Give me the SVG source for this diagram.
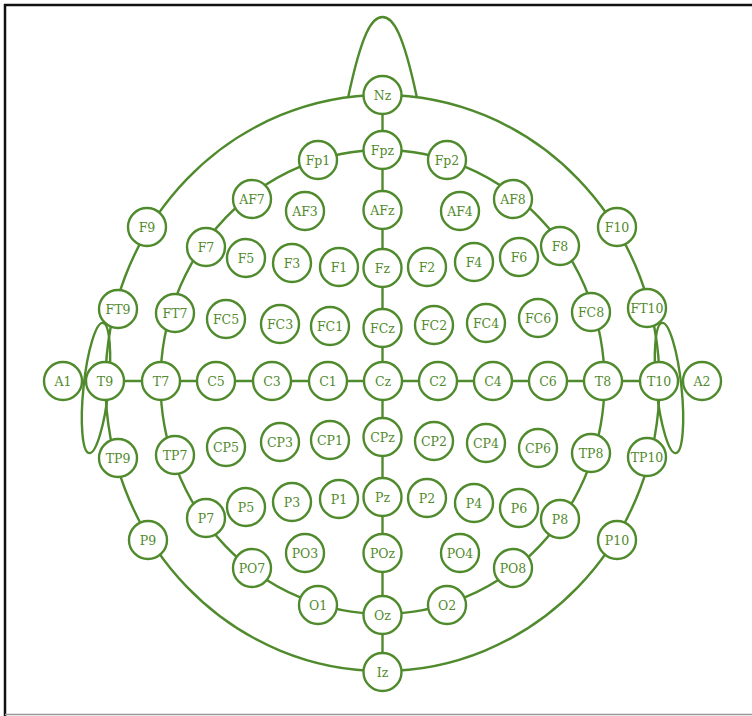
<svg xmlns="http://www.w3.org/2000/svg" width="752" height="716" viewBox="0 0 752 716">
<style>
.ln{fill:none;stroke:#4f8a2c;stroke-width:2.4}
.nd circle{fill:#fff;stroke:#4f8a2c;stroke-width:2.4}
.nd text{font-family:"DejaVu Serif",serif;font-size:12.5px;fill:#4f8a2c;text-anchor:middle;dominant-baseline:central}
</style>
<rect width="752" height="716" fill="#fff"/>
<line x1="4" y1="5" x2="752" y2="5" stroke="#111" stroke-width="2.5"/>
<line x1="5" y1="4" x2="5" y2="716" stroke="#111" stroke-width="2.5"/>
<line x1="5" y1="714.5" x2="752" y2="714.5" stroke="#999" stroke-width="1.5"/>
<g id="connectors">
<path class="ln" d="M348,98 C362,32 372,17 382.5,17 C393,17 403,32 417,98"/>
<ellipse class="ln" cx="382.5" cy="383" rx="277" ry="288"/>
<ellipse class="ln" cx="382.5" cy="382" rx="222" ry="232"/>
<ellipse class="ln" cx="96" cy="388" rx="12.5" ry="65.5" transform="rotate(6 96 388)"/>
<ellipse class="ln" cx="669" cy="388" rx="12.5" ry="65.5" transform="rotate(-6 669 388)"/>
<line class="ln" x1="382.5" y1="95" x2="382.5" y2="672"/>
<line class="ln" x1="105" y1="381" x2="659" y2="381"/>
</g>
<g id="N_Nz" class="nd"><circle cx="382.5" cy="95" r="19"/><text x="382.5" y="95">Nz</text></g>
<g id="N_Fpz" class="nd"><circle cx="382.5" cy="150" r="19"/><text x="382.5" y="150">Fpz</text></g>
<g id="N_Fp1" class="nd"><circle cx="318" cy="160" r="19"/><text x="318" y="160">Fp1</text></g>
<g id="N_Fp2" class="nd"><circle cx="447" cy="160" r="19"/><text x="447" y="160">Fp2</text></g>
<g id="N_AF7" class="nd"><circle cx="252" cy="199" r="19"/><text x="252" y="199">AF7</text></g>
<g id="N_AF3" class="nd"><circle cx="305" cy="211" r="19"/><text x="305" y="211">AF3</text></g>
<g id="N_AFz" class="nd"><circle cx="382.5" cy="210" r="19"/><text x="382.5" y="210">AFz</text></g>
<g id="N_AF4" class="nd"><circle cx="460" cy="211" r="19"/><text x="460" y="211">AF4</text></g>
<g id="N_AF8" class="nd"><circle cx="513" cy="199" r="19"/><text x="513" y="199">AF8</text></g>
<g id="N_F9" class="nd"><circle cx="147" cy="227" r="19"/><text x="147" y="227">F9</text></g>
<g id="N_F10" class="nd"><circle cx="617" cy="227" r="19"/><text x="617" y="227">F10</text></g>
<g id="N_F7" class="nd"><circle cx="206" cy="247" r="19"/><text x="206" y="247">F7</text></g>
<g id="N_F5" class="nd"><circle cx="246" cy="258" r="19"/><text x="246" y="258">F5</text></g>
<g id="N_F3" class="nd"><circle cx="292" cy="263" r="19"/><text x="292" y="263">F3</text></g>
<g id="N_F1" class="nd"><circle cx="339" cy="267" r="19"/><text x="339" y="267">F1</text></g>
<g id="N_Fz" class="nd"><circle cx="382.5" cy="268" r="19"/><text x="382.5" y="268">Fz</text></g>
<g id="N_F2" class="nd"><circle cx="427" cy="267" r="19"/><text x="427" y="267">F2</text></g>
<g id="N_F4" class="nd"><circle cx="474" cy="262" r="19"/><text x="474" y="262">F4</text></g>
<g id="N_F6" class="nd"><circle cx="519" cy="257" r="19"/><text x="519" y="257">F6</text></g>
<g id="N_F8" class="nd"><circle cx="560" cy="246" r="19"/><text x="560" y="246">F8</text></g>
<g id="N_FT9" class="nd"><circle cx="118" cy="309" r="19"/><text x="118" y="309">FT9</text></g>
<g id="N_FT7" class="nd"><circle cx="175" cy="313" r="19"/><text x="175" y="313">FT7</text></g>
<g id="N_FC5" class="nd"><circle cx="226" cy="319" r="19"/><text x="226" y="319">FC5</text></g>
<g id="N_FC3" class="nd"><circle cx="280" cy="324" r="19"/><text x="280" y="324">FC3</text></g>
<g id="N_FC1" class="nd"><circle cx="330" cy="326" r="19"/><text x="330" y="326">FC1</text></g>
<g id="N_FCz" class="nd"><circle cx="382.5" cy="328" r="19"/><text x="382.5" y="328">FCz</text></g>
<g id="N_FC2" class="nd"><circle cx="434" cy="325" r="19"/><text x="434" y="325">FC2</text></g>
<g id="N_FC4" class="nd"><circle cx="486" cy="323" r="19"/><text x="486" y="323">FC4</text></g>
<g id="N_FC6" class="nd"><circle cx="538" cy="318" r="19"/><text x="538" y="318">FC6</text></g>
<g id="N_FC8" class="nd"><circle cx="591" cy="312" r="19"/><text x="591" y="312">FC8</text></g>
<g id="N_FT10" class="nd"><circle cx="647" cy="308" r="19"/><text x="647" y="308">FT10</text></g>
<g id="N_A1" class="nd"><circle cx="63" cy="381" r="19"/><text x="63" y="381">A1</text></g>
<g id="N_T9" class="nd"><circle cx="105" cy="381" r="19"/><text x="105" y="381">T9</text></g>
<g id="N_T7" class="nd"><circle cx="161" cy="381" r="19"/><text x="161" y="381">T7</text></g>
<g id="N_C5" class="nd"><circle cx="216" cy="381" r="19"/><text x="216" y="381">C5</text></g>
<g id="N_C3" class="nd"><circle cx="272" cy="381" r="19"/><text x="272" y="381">C3</text></g>
<g id="N_C1" class="nd"><circle cx="328" cy="381" r="19"/><text x="328" y="381">C1</text></g>
<g id="N_Cz" class="nd"><circle cx="383" cy="381" r="19"/><text x="383" y="381">Cz</text></g>
<g id="N_C2" class="nd"><circle cx="438" cy="381" r="19"/><text x="438" y="381">C2</text></g>
<g id="N_C4" class="nd"><circle cx="493" cy="381" r="19"/><text x="493" y="381">C4</text></g>
<g id="N_C6" class="nd"><circle cx="548" cy="381" r="19"/><text x="548" y="381">C6</text></g>
<g id="N_T8" class="nd"><circle cx="603" cy="381" r="19"/><text x="603" y="381">T8</text></g>
<g id="N_T10" class="nd"><circle cx="659" cy="381" r="19"/><text x="659" y="381">T10</text></g>
<g id="N_A2" class="nd"><circle cx="702" cy="381" r="19"/><text x="702" y="381">A2</text></g>
<g id="N_TP9" class="nd"><circle cx="118" cy="458" r="19"/><text x="118" y="458">TP9</text></g>
<g id="N_TP7" class="nd"><circle cx="175" cy="455" r="19"/><text x="175" y="455">TP7</text></g>
<g id="N_CP5" class="nd"><circle cx="226" cy="447" r="19"/><text x="226" y="447">CP5</text></g>
<g id="N_CP3" class="nd"><circle cx="280" cy="442" r="19"/><text x="280" y="442">CP3</text></g>
<g id="N_CP1" class="nd"><circle cx="330" cy="440" r="19"/><text x="330" y="440">CP1</text></g>
<g id="N_CPz" class="nd"><circle cx="382.5" cy="437" r="19"/><text x="382.5" y="437">CPz</text></g>
<g id="N_CP2" class="nd"><circle cx="434" cy="441" r="19"/><text x="434" y="441">CP2</text></g>
<g id="N_CP4" class="nd"><circle cx="486" cy="443" r="19"/><text x="486" y="443">CP4</text></g>
<g id="N_CP6" class="nd"><circle cx="538" cy="448" r="19"/><text x="538" y="448">CP6</text></g>
<g id="N_TP8" class="nd"><circle cx="591" cy="453" r="19"/><text x="591" y="453">TP8</text></g>
<g id="N_TP10" class="nd"><circle cx="647" cy="457" r="19"/><text x="647" y="457">TP10</text></g>
<g id="N_P9" class="nd"><circle cx="148" cy="540" r="19"/><text x="148" y="540">P9</text></g>
<g id="N_P7" class="nd"><circle cx="206" cy="518" r="19"/><text x="206" y="518">P7</text></g>
<g id="N_P5" class="nd"><circle cx="246" cy="507" r="19"/><text x="246" y="507">P5</text></g>
<g id="N_P3" class="nd"><circle cx="292" cy="502" r="19"/><text x="292" y="502">P3</text></g>
<g id="N_P1" class="nd"><circle cx="339" cy="499" r="19"/><text x="339" y="499">P1</text></g>
<g id="N_Pz" class="nd"><circle cx="382.5" cy="497" r="19"/><text x="382.5" y="497">Pz</text></g>
<g id="N_P2" class="nd"><circle cx="427" cy="498" r="19"/><text x="427" y="498">P2</text></g>
<g id="N_P4" class="nd"><circle cx="474" cy="503" r="19"/><text x="474" y="503">P4</text></g>
<g id="N_P6" class="nd"><circle cx="519" cy="508" r="19"/><text x="519" y="508">P6</text></g>
<g id="N_P8" class="nd"><circle cx="560" cy="519" r="19"/><text x="560" y="519">P8</text></g>
<g id="N_P10" class="nd"><circle cx="617" cy="540" r="19"/><text x="617" y="540">P10</text></g>
<g id="N_PO7" class="nd"><circle cx="252" cy="568" r="19"/><text x="252" y="568">PO7</text></g>
<g id="N_PO3" class="nd"><circle cx="305" cy="553" r="19"/><text x="305" y="553">PO3</text></g>
<g id="N_POz" class="nd"><circle cx="382.5" cy="553" r="19"/><text x="382.5" y="553">POz</text></g>
<g id="N_PO4" class="nd"><circle cx="460" cy="553" r="19"/><text x="460" y="553">PO4</text></g>
<g id="N_PO8" class="nd"><circle cx="513" cy="568" r="19"/><text x="513" y="568">PO8</text></g>
<g id="N_O1" class="nd"><circle cx="318" cy="605" r="19"/><text x="318" y="605">O1</text></g>
<g id="N_Oz" class="nd"><circle cx="382.5" cy="615" r="19"/><text x="382.5" y="615">Oz</text></g>
<g id="N_O2" class="nd"><circle cx="447" cy="605" r="19"/><text x="447" y="605">O2</text></g>
<g id="N_Iz" class="nd"><circle cx="382.5" cy="672" r="19"/><text x="382.5" y="672">Iz</text></g>
</svg>
